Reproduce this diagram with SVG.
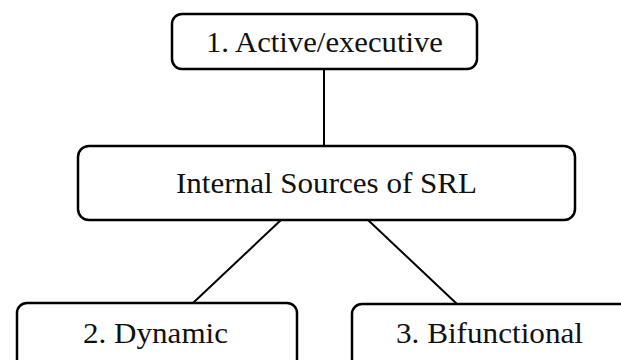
<svg xmlns="http://www.w3.org/2000/svg" width="621" height="360" viewBox="0 0 621 360">
  <style>
    .box { fill: #ffffff; stroke: #000000; stroke-width: 2.5; }
    .edge { stroke: #000000; stroke-width: 2; fill: none; }
    .label { font-family: "Liberation Serif", "Times New Roman", serif; font-size: 29px; fill: #111111; }
  </style>
  <rect width="621" height="360" fill="#ffffff"/>

  <g id="connectors">
    <line class="edge" x1="324" y1="69" x2="324" y2="146"/>
    <line class="edge" x1="281" y1="220" x2="193" y2="303"/>
    <line class="edge" x1="368" y1="220" x2="457" y2="304"/>
  </g>

  <g id="node-active">
    <rect class="box" x="172" y="14" width="305" height="55" rx="10"/>
    <text class="label" x="206" y="52" textLength="237" lengthAdjust="spacingAndGlyphs">1. Active/executive</text>
  </g>

  <g id="node-internal">
    <rect class="box" x="78" y="146" width="497" height="74" rx="11"/>
    <text class="label" x="176" y="193" textLength="301" lengthAdjust="spacingAndGlyphs">Internal Sources of SRL</text>
  </g>

  <g id="node-dynamic">
    <rect class="box" x="17" y="303" width="280" height="70" rx="10"/>
    <text class="label" x="83" y="343" textLength="145" lengthAdjust="spacingAndGlyphs">2. Dynamic</text>
  </g>

  <g id="node-bifunctional">
    <rect class="box" x="352" y="304" width="290" height="70" rx="10"/>
    <text class="label" x="396" y="343" textLength="187" lengthAdjust="spacingAndGlyphs">3. Bifunctional</text>
  </g>
</svg>
